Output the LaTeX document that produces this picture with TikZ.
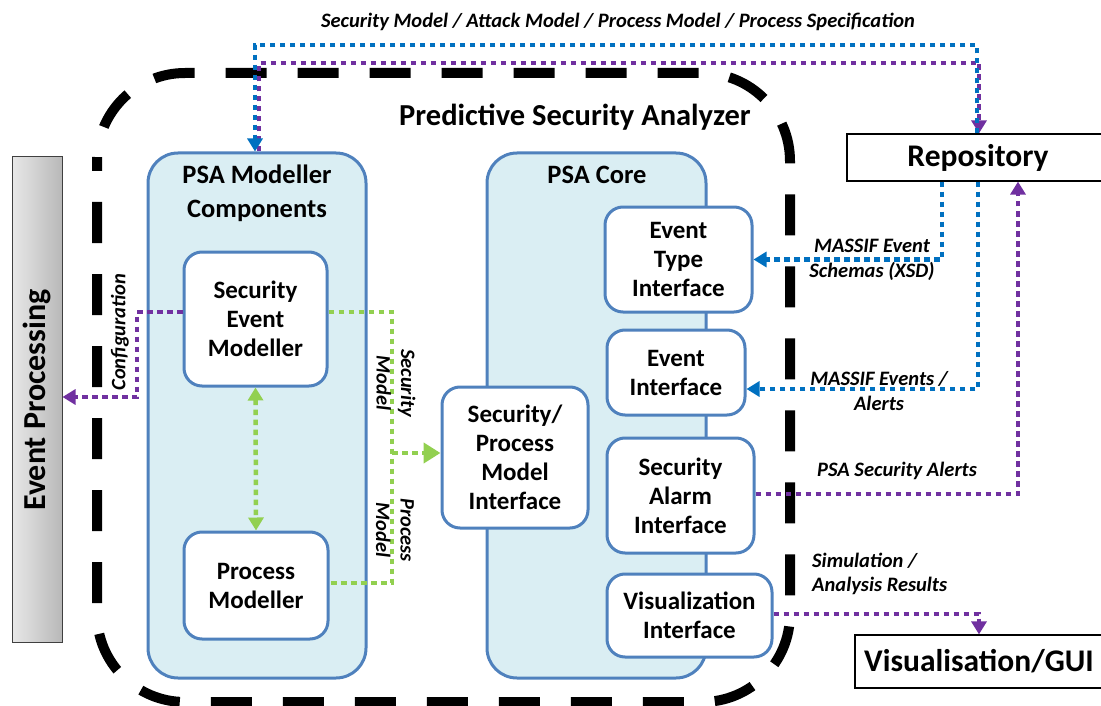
\documentclass[tikz,border=0pt]{standalone}
\usepackage{fontspec}
\setmainfont{Carlito}
\usetikzlibrary{arrows.meta}

\definecolor{psaBlue}{RGB}{79,129,189}
\definecolor{psaFill}{RGB}{218,238,243}
\definecolor{flowBlue}{RGB}{0,112,192}
\definecolor{flowPurple}{RGB}{112,48,160}
\definecolor{flowGreen}{RGB}{146,208,80}
\definecolor{barLight}{RGB}{232,232,232}
\definecolor{barDark}{RGB}{184,184,184}

\tikzset{
  container/.style={draw=psaBlue, line width=3pt, fill=psaFill, rounded corners=30pt, inner sep=0pt},
  ctitle/.style={font=\bfseries\fontsize{26.5}{34}\selectfont, align=center, inner sep=0pt},
  inbox/.style={draw=psaBlue, line width=3pt, fill=white, rounded corners=18pt, align=center,
                inner sep=0pt, font=\bfseries\fontsize{25}{29}\selectfont},
  extbox/.style={draw=black, line width=1.2pt, fill=white, inner sep=0pt,
                 font=\bfseries\fontsize{31.5}{36}\selectfont},
  frame/.style={line width=10pt, dash pattern=on 41pt off 31pt, dash phase=31pt, rounded corners=88pt},
  lbl/.style={font=\bfseries\itshape\fontsize{20.5}{24.5}\selectfont, align=center, inner sep=0pt},
  flow/.style={line width=4.5pt, dash pattern=on 5.5pt off 4.5pt},
  tip/.style={-{Triangle[length=13pt,width=15pt]}},
  blueflow/.style={flow, draw=flowBlue, tip},
  purpleflow/.style={flow, draw=flowPurple, tip},
  greenline/.style={flow, draw=flowGreen},
  greenflow/.style={flow, draw=flowGreen, -{Triangle[length=17pt,width=20pt]}},
  greenboth/.style={flow, draw=flowGreen, {Triangle[length=13pt,width=15pt]}-{Triangle[length=13pt,width=15pt]}},
}

\begin{document}
\begin{tikzpicture}[x=1pt,y=-1pt]
\useasboundingbox (0,0) rectangle (1101,706);

% outer dashed boundary of the analyzer
\draw[frame] (97,73) rectangle (790,702);
\node[font=\bfseries\fontsize{30.5}{36}\selectfont, inner sep=0pt] (psa) at (575,117) {Predictive Security Analyzer};

% event processing side bar
\node[draw=black!75, line width=1pt, left color=barLight, right color=barDark,
      minimum width=50pt, minimum height=485pt, inner sep=0pt] (ep) at (37,399.5) {};
\node[rotate=90, font=\bfseries\fontsize{32}{36}\selectfont, inner sep=0pt] (eptext) at (37,400) {Event Processing};

% the two component groups
\node[container, minimum width=218pt, minimum height=525pt] (modc) at (257,415.5) {};
\node[ctitle] (modt) at (257,193) {PSA Modeller\\Components};
\node[container, minimum width=219pt, minimum height=525pt] (core) at (596.5,415.5) {};
\node[ctitle] (coret) at (597,175) {PSA Core};

% modeller boxes
\node[inbox, minimum width=143pt, minimum height=134pt] (sem) at (255.5,319) {Security\\Event\\Modeller};
\node[inbox, minimum width=144pt, minimum height=107pt] (pm) at (256,585.5) {Process\\Modeller};

% core interfaces
\node[inbox, minimum width=146pt, minimum height=141pt] (spm) at (515,457.5) {Security/\\Process\\Model\\Interface};
\node[inbox, minimum width=147pt, minimum height=105pt] (eti) at (678.5,259.5) {Event\\Type\\Interface};
\node[inbox, minimum width=138pt, minimum height=85pt] (ei) at (676,372.5) {Event\\Interface};
\node[inbox, minimum width=147pt, minimum height=115pt] (sai) at (680.5,495.5) {Security\\Alarm\\Interface};
\node[inbox, minimum width=165pt, minimum height=83pt] (vi) at (689.5,615.5) {Visualization\\Interface};

% external systems
\node[extbox, minimum width=262pt, minimum height=47pt] (repo) at (978,157.5) {Repository};
\node[extbox, minimum width=248pt, minimum height=53pt] (gui) at (979,661.5) {Visualisation/GUI};

% model exchange with the repository
\coordinate (pL) at (259,63);
\coordinate (pR) at (979,63);
\coordinate (bL) at (255,45);
\coordinate (bR) at (977,45);
\draw[purpleflow] (modc.north -| pL) -- (pL) -- (pR) -- (repo.north -| pR);
\draw[blueflow] (repo.north -| bR) -- (bR) -- (bL) -- (modc.north -| bL);
\node[lbl] (toplbl) at (618,22) {Security Model / Attack Model / Process Model / Process Specification};

% event schemas and events from the repository
\coordinate (schX) at (942,0);
\draw[blueflow] (repo.south -| schX) |- (eti.east);
\node[lbl] (schlbl) at (872,260) {MASSIF Event\\Schemas (XSD)};
\coordinate (evC) at (978,389);
\draw[blueflow] (repo.south -| evC) -- (evC) -- (ei.east |- evC);
\node[lbl] (evlbl) at (879,391) {MASSIF Events /\\Alerts};

% alerts back to the repository
\coordinate (alX) at (1018,494);
\draw[purpleflow] (sai.east |- alX) -- (alX) -- (repo.south -| alX);
\node[lbl] (allbl) at (897,471) {PSA Security Alerts};

% results to the GUI
\coordinate (viC) at (979,614);
\draw[purpleflow] (vi.east |- viC) -- (viC) -- (gui.north -| viC);
\node[lbl, align=left, anchor=west] (simlbl) at (812,574) {Simulation /\\Analysis Results};

% configuration of event processing
\coordinate (cfgA) at (137,312);
\coordinate (cfgB) at (137,397);
\draw[purpleflow] (sem.west |- cfgA) -- (cfgA) -- (cfgB) -- (ep.east |- cfgB);
\node[lbl, rotate=90] (cfglbl) at (120,332) {Configuration};

% models into the core
\coordinate (gTop) at (392,312);
\coordinate (gBot) at (392,583);
\coordinate (gMid) at (392,453);
\draw[greenline] (sem.east |- gTop) -- (gTop) -- (gBot) -- (pm.east |- gBot);
\draw[greenflow] (gMid) -- (spm.west |- gMid);
\draw[greenboth] (sem.south) -- (pm.north);
\node[lbl, rotate=-90] (smlbl) at (396,383) {Security\\Model};
\node[lbl, rotate=-90] (pmlbl) at (395,530) {Process\\Model};
\end{tikzpicture}
\end{document}
